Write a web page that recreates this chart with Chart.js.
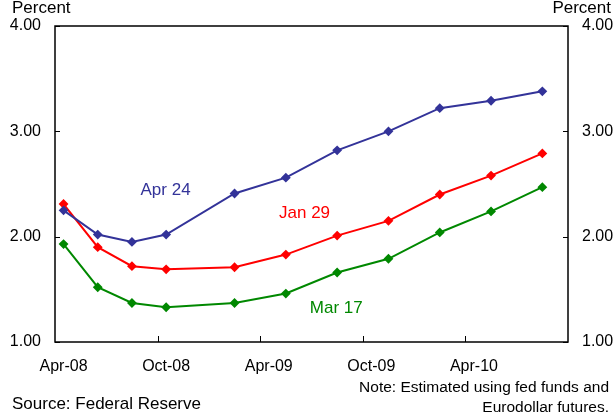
<!DOCTYPE html>
<html>
<head>
<meta charset="utf-8">
<script src="https://cdn.jsdelivr.net/npm/chart.js@4.4.1/dist/chart.umd.min.js"></script>
<style>
  html, body { margin: 0; padding: 0; background: #fff; }
  #wrap { width: 615px; height: 419px; position: relative; }
</style>
</head>
<body>
<div id="wrap"><canvas id="chart" width="615" height="419"></canvas></div>
<script>
// months since Apr-08 (mid-month contract dates)
const monthsOut = [0.5, 2.5, 4.5, 6.5, 10.5, 13.5, 16.5, 19.5, 22.5, 25.5, 28.5];
const apr24 = [2.25, 2.02, 1.95, 2.02, 2.41, 2.56, 2.82, 3.00, 3.22, 3.29, 3.38];
const jan29 = [2.31, 1.90, 1.72, 1.69, 1.71, 1.83, 2.01, 2.15, 2.40, 2.58, 2.79];
const mar17 = [1.93, 1.52, 1.37, 1.33, 1.37, 1.46, 1.66, 1.79, 2.04, 2.24, 2.47];

const xTickLabels = ["Apr-08", "Oct-08", "Apr-09", "Oct-09", "Apr-10"];
const xLabelPos = [0.5, 6.5, 12.5, 18.5, 24.5];
const xTickMarks = [6, 12, 18, 24];
const yTicks = [1, 2, 3, 4];

const seriesNames = ["Apr 24", "Jan 29", "Mar 17"];
const seriesColors = ["#333399", "#ff0000", "#008800"];
// label anchor points in data units (months, percent)
const seriesLabelX = [5.0, 13.1, 14.9];
const seriesLabelY = [2.44, 2.22, 1.32];

const FONT = "'Liberation Sans', Arial, sans-serif";

function pts(vals) {
  return vals.map((v, i) => ({ x: monthsOut[i], y: v }));
}

const frameAndText = {
  id: "frameAndText",
  afterDraw(chart) {
    const { ctx, chartArea: a, scales } = chart;
    const x = scales.x, y = scales.y;
    ctx.save();
    ctx.strokeStyle = "#000";
    ctx.lineWidth = 1.5;
    ctx.strokeRect(a.left, a.top, a.right - a.left, a.bottom - a.top);
    ctx.lineWidth = 1;
    ctx.beginPath();
    xTickMarks.forEach(m => {
      const px = Math.round(x.getPixelForValue(m)) + 0.5;
      ctx.moveTo(px, a.bottom);
      ctx.lineTo(px, a.bottom - 6);
    });
    yTicks.forEach(v => {
      const py = Math.round(y.getPixelForValue(v)) + 0.5;
      ctx.moveTo(a.left, py);
      ctx.lineTo(a.left + 5, py);
      ctx.moveTo(a.right, py);
      ctx.lineTo(a.right - 5, py);
    });
    ctx.stroke();

    ctx.font = "17px " + FONT;
    ctx.textBaseline = "middle";
    seriesNames.forEach((n, i) => {
      ctx.fillStyle = seriesColors[i];
      ctx.textAlign = "left";
      ctx.fillText(n, x.getPixelForValue(seriesLabelX[i]), y.getPixelForValue(seriesLabelY[i]));
    });

    ctx.fillStyle = "#000";
    ctx.textAlign = "left";
    ctx.fillText("Percent", 12, 8);
    ctx.textAlign = "right";
    ctx.fillText("Percent", 611, 8);
    ctx.textAlign = "left";
    ctx.fillText("Source: Federal Reserve", 12, 404);
    ctx.textAlign = "right";
    ctx.font = "15.5px " + FONT;
    ctx.fillText("Note: Estimated using fed funds and", 609, 388);
    ctx.fillText("Eurodollar futures.", 609, 408);
    ctx.restore();
  }
};

function yAxis(position, width) {
  return {
    type: "linear",
    position: position,
    min: 1,
    max: 4,
    afterBuildTicks: s => { s.ticks = yTicks.map(v => ({ value: v })); },
    afterFit: s => { s.width = width; },
    grid: { display: false, drawTicks: false },
    border: { display: false },
    ticks: {
      padding: 14,
      color: "#000",
      font: { family: FONT, size: 16 },
      callback: v => v.toFixed(2)
    }
  };
}

new Chart(document.getElementById("chart"), {
  type: "line",
  data: {
    datasets: [apr24, jan29, mar17].map((vals, i) => ({
      label: seriesNames[i],
      data: pts(vals),
      borderColor: seriesColors[i],
      backgroundColor: seriesColors[i],
      borderWidth: 2,
      pointStyle: "rectRot",
      pointRadius: 3.5,
      pointHoverRadius: 3.5,
      tension: 0,
      fill: false
    }))
  },
  options: {
    responsive: false,
    animation: false,
    layout: { padding: { top: 26, left: 0, right: 0, bottom: 0 } },
    plugins: { legend: { display: false }, tooltip: { enabled: false } },
    scales: {
      x: {
        type: "linear",
        min: 0,
        max: 30,
        afterBuildTicks: s => { s.ticks = xLabelPos.map(v => ({ value: v })); },
        afterFit: s => { s.height = 77; },
        grid: { display: false, drawTicks: false },
        border: { display: false },
        ticks: {
          padding: 15,
          maxRotation: 0,
          autoSkip: false,
          color: "#000",
          font: { family: FONT, size: 16 },
          callback: v => xTickLabels[xLabelPos.indexOf(v)]
        }
      },
      y: yAxis("left", 55),
      y2: yAxis("right", 47)
    }
  },
  plugins: [frameAndText]
});
</script>
</body>
</html>
